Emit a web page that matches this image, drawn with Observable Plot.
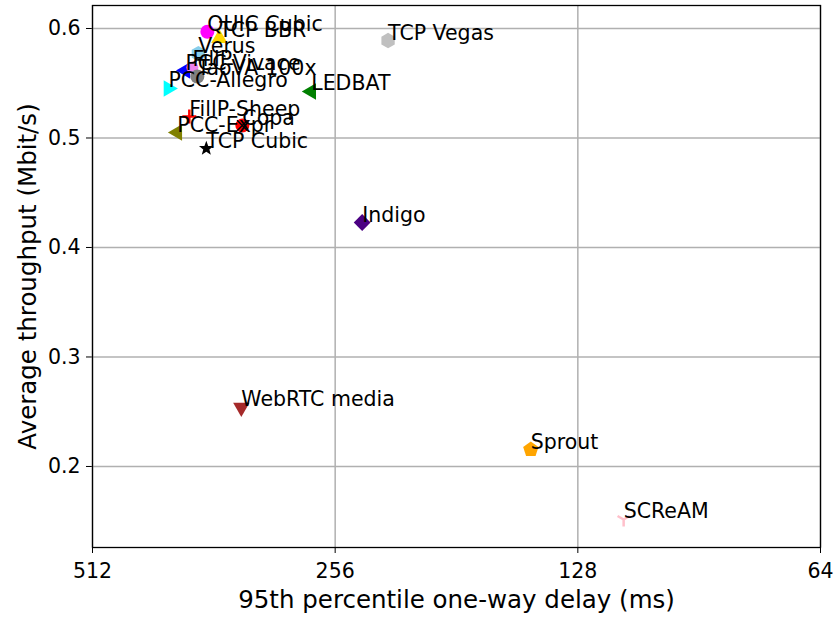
<!DOCTYPE html>
<html>
<head>
<meta charset="utf-8">
<script src="https://cdn.jsdelivr.net/npm/d3@7"></script>
<script src="https://cdn.jsdelivr.net/npm/@observablehq/plot@0.6"></script>
<style>
  html, body { margin: 0; padding: 0; background: #fff; }
  #chart svg { display: block; }
</style>
</head>
<body>
<div id="chart"></div>
<script>
// ---- data ----
const schemes = ["QUIC Cubic", "TCP BBR", "Verus", "PCC-Vivace", "FillP", "TaoVA-100x",
  "PCC-Allegro", "LEDBAT", "TCP Vegas", "FillP-Sheep", "PCC-Expr", "Copa", "TCP Cubic",
  "Indigo", "WebRTC media", "Sprout", "SCReAM"];
const delayMs = [368.8, 356.4, 378.4, 392.6, 384.9, 379.5,
  412.2, 274.1, 220.1, 388.3, 401.8, 333.7, 369.9,
  237.0, 334.7, 146.4, 112.3];
const throughput = [0.597, 0.591, 0.577, 0.5616, 0.5644, 0.5562,
  0.5452, 0.5425, 0.589, 0.5196, 0.505, 0.5114, 0.4904,
  0.4228, 0.2539, 0.2155, 0.1516];
const xTicks = [512, 256, 128, 64];
const yTicks = [0.2, 0.3, 0.4, 0.5, 0.6];
const xLabel = "95th percentile one-way delay (ms)";
const yLabel = "Average throughput (Mbit/s)";

// ---- styles ----
function regular(n, rotDeg, scale = 1) {
  return {
    draw(ctx, size) {
      const r = Math.sqrt(size / Math.PI) * scale;
      for (let i = 0; i < n; i++) {
        const a = (rotDeg + i * 360 / n) * Math.PI / 180;
        const px = r * Math.sin(a), py = -r * Math.cos(a);
        if (i === 0) ctx.moveTo(px, py); else ctx.lineTo(px, py);
      }
      ctx.closePath();
    }
  };
}
const star = {
  draw(ctx, size) {
    const R = Math.sqrt(size / Math.PI) * 1.1, r = R * 0.42;
    for (let i = 0; i < 10; i++) {
      const a = i * Math.PI / 5, rr = i % 2 ? r : R;
      const px = rr * Math.sin(a), py = -rr * Math.cos(a);
      if (i === 0) ctx.moveTo(px, py); else ctx.lineTo(px, py);
    }
    ctx.closePath();
  }
};
const plus = { draw(ctx, size) { const r = Math.sqrt(size / Math.PI);
  ctx.moveTo(-r, 0); ctx.lineTo(r, 0); ctx.moveTo(0, -r); ctx.lineTo(0, r); } };
const cross = { draw(ctx, size) { const r = Math.sqrt(size / Math.PI) * 0.75;
  ctx.moveTo(-r, -r); ctx.lineTo(r, r); ctx.moveTo(-r, r); ctx.lineTo(r, -r); } };
const triDown = { draw(ctx, size) { const r = Math.sqrt(size / Math.PI);
  ctx.moveTo(0, 0); ctx.lineTo(0, r);
  ctx.moveTo(0, 0); ctx.lineTo(-r * 0.87, -r * 0.5);
  ctx.moveTo(0, 0); ctx.lineTo(r * 0.87, -r * 0.5); } };
const circle = d3.symbolCircle;

const style = {
  "QUIC Cubic":   { color: "#ff00ff", sym: circle, r: 7 },
  "TCP BBR":      { color: "#ffd700", sym: regular(3, 0, 1.35), r: 7 },
  "Verus":        { color: "#87ceeb", sym: regular(6, 0, 1.1), r: 7 },
  "PCC-Vivace":   { color: "#0000ff", sym: regular(3, -90, 1.35), r: 7 },
  "FillP":        { color: "#ee82ee", sym: circle, r: 6 },
  "TaoVA-100x":   { color: "#808080", sym: circle, r: 7 },
  "PCC-Allegro":  { color: "#00ffff", sym: regular(3, 90, 1.35), r: 7 },
  "LEDBAT":       { color: "#008000", sym: regular(3, -90, 1.35), r: 7 },
  "TCP Vegas":    { color: "#c0c0c0", sym: regular(6, 0, 1.1), r: 7 },
  "FillP-Sheep":  { color: "#ff0000", sym: plus, r: 7, line: true },
  "PCC-Expr":     { color: "#808000", sym: regular(3, -90, 1.35), r: 7 },
  "Copa":         { color: "#ff0000", sym: circle, r: 7, overlay: "#000000" },
  "TCP Cubic":    { color: "#000000", sym: star, r: 7 },
  "Indigo":       { color: "#4b0082", sym: regular(4, 0, 1.2), r: 7 },
  "WebRTC media": { color: "#a52a2a", sym: regular(3, 180, 1.35), r: 7 },
  "Sprout":       { color: "#ffa500", sym: regular(5, 0, 1.15), r: 7 },
  "SCReAM":       { color: "#ffc0cb", sym: triDown, r: 7, line: true }
};

const rows = schemes.map((name, i) => ({ name, delay: delayMs[i], tput: throughput[i] }));

const marks = [
  Plot.ruleX(xTicks, { stroke: "#b0b0b0", strokeWidth: 1.5 }),
  Plot.ruleY(yTicks, { stroke: "#b0b0b0", strokeWidth: 1.5 }),
];
rows.forEach(d => {
  const s = style[d.name];
  if (s.line) {
    marks.push(Plot.dot([d], { x: "delay", y: "tput", symbol: s.sym, r: s.r,
      fill: "none", stroke: s.color, strokeWidth: 2.5 }));
  } else {
    marks.push(Plot.dot([d], { x: "delay", y: "tput", symbol: s.sym, r: s.r,
      fill: s.color, stroke: "none" }));
  }
  if (s.overlay) {
    marks.push(Plot.dot([d], { x: "delay", y: "tput", symbol: cross, r: s.r,
      fill: "none", stroke: s.overlay, strokeWidth: 1.5 }));
  }
});
marks.push(Plot.text(rows, { x: "delay", y: "tput", text: "name", textAnchor: "start",
  lineAnchor: "bottom", fontSize: 20.5, dy: -1, fill: "black" }));
marks.push(Plot.frame({ stroke: "black", strokeWidth: 1.3 }));
marks.push(Plot.text([xLabel], { text: d => d, frameAnchor: "bottom", dy: 53,
  textAnchor: "middle", lineAnchor: "middle", fontSize: 24.5, fill: "black" }));
marks.push(Plot.text([yLabel], { text: d => d, frameAnchor: "left", dx: -64, rotate: -90,
  textAnchor: "middle", lineAnchor: "middle", fontSize: 24.5, fill: "black" }));

const chart = Plot.plot({
  width: 835,
  height: 617,
  marginLeft: 92,
  marginRight: 15,
  marginTop: 5,
  marginBottom: 70,
  style: { fontFamily: "DejaVu Sans", fontSize: "20.5px", color: "black", background: "white" },
  x: { type: "log", base: 2, domain: [512, 64], ticks: xTicks, tickFormat: d => String(d),
       tickSize: 6, tickPadding: 10, label: null },
  y: { domain: [0.126, 0.621], ticks: yTicks, tickFormat: d3.format(".1f"),
       tickSize: 6, tickPadding: 6, label: null },
  marks
});
document.getElementById("chart").appendChild(chart);
</script>
</body>
</html>
